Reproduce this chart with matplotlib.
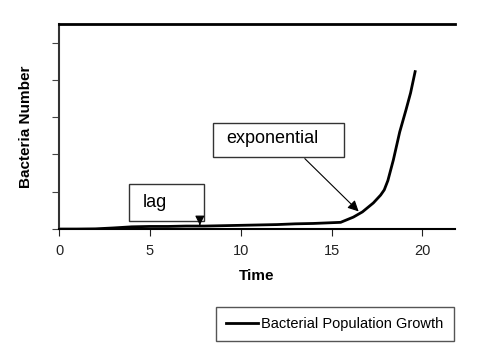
import matplotlib
matplotlib.use('Agg')
import matplotlib.pyplot as plt
from matplotlib.patches import Rectangle

plt.rcParams['font.family'] = ['Liberation Sans', 'DejaVu Sans']

# growth curve
time = [0, 1, 2, 3, 4, 5, 6, 7, 8, 9, 10, 11, 12, 13, 14, 15, 15.5, 16.2, 16.7, 17.3, 17.7, 17.9,
        18.1, 18.4, 18.75, 19.1, 19.35, 19.6]
bacteria = [0, 0, 0.005, 0.03, 0.06, 0.07, 0.07, 0.08, 0.08, 0.09, 0.1, 0.11, 0.12, 0.14, 0.15, 0.17,
            0.18, 0.32, 0.46, 0.7, 0.91, 1.05, 1.3, 1.85, 2.6, 3.2, 3.65, 4.22]
x_ticks = [0, 5, 10, 15, 20]
y_ticks = [0, 1, 2, 3, 4, 5]

fig = plt.figure(figsize=(4.92, 3.46), dpi=100)
ax = fig.add_axes([0.12, 0.338, 0.805, 0.593])

line, = ax.plot(time, bacteria, color='black', lw=2, solid_joinstyle='round')

ax.set_xlim(0, 21.8)
ax.set_ylim(0, 5.5)
ax.set_xticks(x_ticks)
ax.set_yticks(y_ticks)
ax.set_yticklabels([])
ax.tick_params(axis='x', direction='out', length=5, width=0.8, labelsize=10.5, pad=6, colors='#222')
ax.tick_params(axis='y', direction='out', length=5, width=0.8, colors='#444')

ax.spines['right'].set_visible(False)
ax.spines['top'].set_linewidth(2)
ax.spines['left'].set_linewidth(1.5)
ax.spines['bottom'].set_linewidth(1.5)
ax.spines['left'].set_color('#333')

ax.set_xlabel('Time', fontsize=11, fontweight='bold', labelpad=8)
ax.set_ylabel('Bacteria Number', fontsize=11, fontweight='bold')
ax.yaxis.set_label_coords(-0.065, 0.5)

# callout boxes
ax.add_patch(Rectangle((3.86, 0.22), 4.11, 0.99, fill=False, ec='#333', lw=1, clip_on=False))
ax.text(4.6, 0.72, 'lag', fontsize=13, va='center', ha='left')
ax.annotate('', xy=(7.75, 0.03), xytext=(7.75, 0.22),
            arrowprops=dict(arrowstyle='-|>', color='black', lw=0.8, mutation_scale=14))

ax.add_patch(Rectangle((8.48, 1.94), 7.18, 0.91, fill=False, ec='#333', lw=1, clip_on=False))
ax.text(9.18, 2.42, 'exponential', fontsize=13, va='center', ha='left')
ax.annotate('', xy=(16.6, 0.42), xytext=(13.42, 1.94),
            arrowprops=dict(arrowstyle='-|>', color='black', lw=0.8, mutation_scale=16))

leg = fig.legend([line], ['Bacterial Population Growth'], loc='upper left',
                 bbox_to_anchor=(216 / 492, 1 - 307 / 346), fontsize=10.5, fancybox=False,
                 handlelength=2.2, handletextpad=0.2, borderpad=0.7, borderaxespad=0,
                 framealpha=1)
leg.get_frame().set_edgecolor('#555')
leg.get_frame().set_linewidth(1)

fig.savefig('out.png', dpi=100)
